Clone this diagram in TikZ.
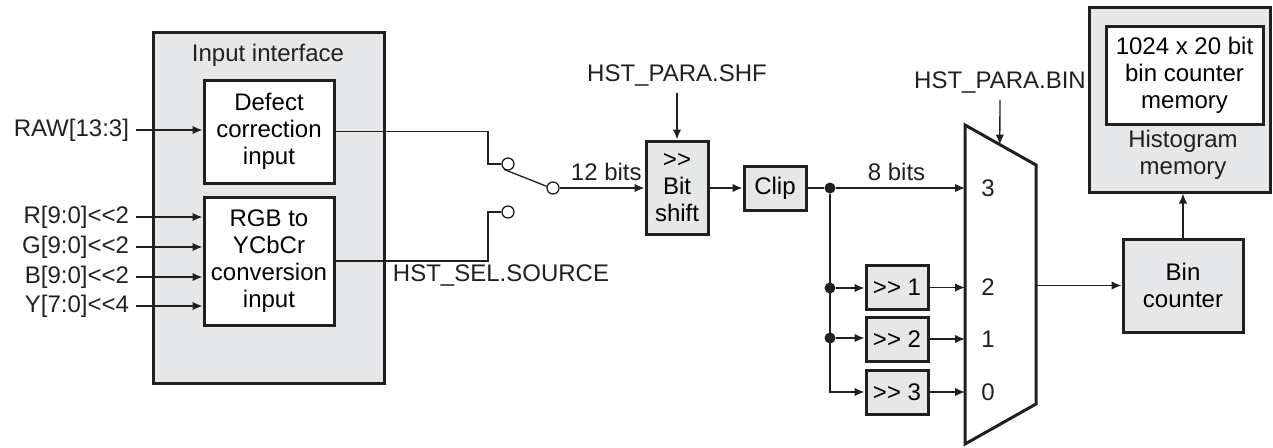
\documentclass[tikz,border=0pt]{standalone}
\usepackage{fontspec}
\setmainfont{Liberation Sans}
\usetikzlibrary{arrows.meta,calc}
\definecolor{boxgray}{RGB}{230,231,232}
\definecolor{ink}{RGB}{35,31,32}

\tikzset{
    blk/.style={draw=ink, line width=1.5pt, inner sep=0pt, align=center},
    graybox/.style={blk, fill=boxgray},
    whitebox/.style={blk, fill=white},
    sig/.style={draw=ink, line width=0.65pt, -{Latex[length=5pt,width=4.2pt]}},
    wire/.style={draw=ink, line width=0.65pt},
    pin/.style={circle, draw=ink, fill=white, line width=0.65pt, minimum size=6pt, inner sep=0pt},
    dot/.style={circle, fill=ink, minimum size=5.5pt, inner sep=0pt},
    lbl/.style={text=ink, align=center}
}

\begin{document}
\begin{tikzpicture}[x=0.5pt, y=-0.5pt, font=\fontsize{12}{13.5}\selectfont]
    \useasboundingbox (0,0) rectangle (1273,447);
    % input interface
    \path node[graybox, minimum width=115.5pt, minimum height=175.5pt] (iface) at (268.5,207.5) {}
        node[lbl] (ifacet) at (268,55) {Input interface}
        node[whitebox, minimum width=65pt, minimum height=51.5pt] (dfc) at (269,131.5) {Defect\\correction\\input}
        node[whitebox, minimum width=65pt, minimum height=64pt] (rgb) at (269,261) {RGB to\\YCbCr\\conversion\\input};
    \path node[lbl, anchor=east] (raw) at (136,130) {RAW[13:3]}
        node[lbl, anchor=east] (rin) at (136,217) {R[9:0]<{}<2}
        node[lbl, anchor=east] (gin) at (136,247) {G[9:0]<{}<2}
        node[lbl, anchor=east] (bin) at (136,277) {B[9:0]<{}<2}
        node[lbl, anchor=east] (yin) at (136,306) {Y[7:0]<{}<4};
    \draw[sig] (raw) -- (raw -| dfc.west);
    \draw[sig] (rin) -- (rin -| rgb.west);
    \draw[sig] (gin) -- (gin -| rgb.west);
    \draw[sig] (bin) -- (bin -| rgb.west);
    \draw[sig] (yin) -- (yin -| rgb.west);
    % source switch
    \path node[pin] (sw1) at (508,164) {}
        node[pin] (sw2) at (508,212) {}
        node[pin] (swc) at (553,188) {}
        node[lbl] (selsrc) at (501,275) {HST\_SEL.SOURCE};
    \coordinate (j1) at (488,164);
    \coordinate (j2) at (488,212);
    \draw[wire] (dfc.east) -| (j1) -- (sw1);
    \draw[wire] (rgb.east) -| (j2) -- (sw2);
    \draw[wire] (sw1.-125) -- (swc.165);
    % bit shift and clip
    \path node[graybox, minimum width=31pt, minimum height=46.5pt] (bsh) at (677,187.5) {>{}>\\Bit\\shift}
        node[lbl] (shf) at (677,75) {HST\_PARA.SHF}
        node[graybox, minimum width=31pt, minimum height=22pt] (clip) at (775,188) {Clip};
    \draw[sig] (swc) -- node[lbl, above, pos=0.55] {12 bits} (swc -| bsh.west);
    \draw[sig] (shf) -- (bsh);
    \draw[sig] (bsh.east |- clip) -- (clip);
    % shifters
    \path node[dot] (d0) at (830,188) {}
        node[dot] (d1) at (830,288) {}
        node[dot] (d2) at (830,338) {}
        node[graybox, minimum width=31pt, minimum height=22pt] (sh1) at (897,287.5) {>{}> 1}
        node[graybox, minimum width=31pt, minimum height=22pt] (sh2) at (897,339) {>{}> 2}
        node[graybox, minimum width=31pt, minimum height=22pt] (sh3) at (897,392) {>{}> 3};
    \draw[wire] (clip) -- (d0);
    \draw[sig] (d0) |- (sh3);
    \draw[sig] (d1) -- (d1 -| sh1.west);
    \draw[sig] (d2) -- (d2 -| sh2.west);
    % multiplexer
    \coordinate (mux-tl) at (965,125);
    \coordinate (mux-tr) at (1036,165);
    \coordinate (mux-br) at (1036,404);
    \coordinate (mux-bl) at (965,444);
    \draw[ink, line width=1.5pt, line join=miter] (mux-tl) -- (mux-tr) -- (mux-br) -- (mux-bl) -- cycle;
    \coordinate (in3) at (965,188);
    \coordinate (in2) at (965,287.5);
    \coordinate (in1) at (965,339);
    \coordinate (in0) at (965,392);
    \coordinate (bintap) at ($(mux-tl)!0.49!(mux-tr)$);
    \coordinate (mux-out) at (1036,285.5);
    \path node[lbl] at (988,188) {3}
        node[lbl] at (988,287.5) {2}
        node[lbl] at (988,339) {1}
        node[lbl] at (988,392) {0}
        node[lbl] (binp) at (1000,82) {HST\_PARA.BIN};
    \draw[sig] (d0) -- node[lbl, above, pos=0.47] {8 bits} (in3);
    \draw[sig] (sh1) -- (in2);
    \draw[sig] (sh2) -- (in1);
    \draw[sig] (sh3) -- (in0);
    \draw[sig] (binp) -- (bintap);
    % bin counter and memory
    \path node[graybox, minimum width=60pt, minimum height=46.5pt] (bcnt) at (1183,285.5) {Bin\\counter}
        node[graybox, minimum width=90.5pt, minimum height=92.5pt] (hmem) at (1179.5,99.5) {}
        node[whitebox, minimum width=78.5pt, minimum height=49pt] (cmem) at (1184.5,75) {1024 x 20 bit\\bin counter\\memory}
        node[lbl] (hmemt) at (1183,155) {Histogram\\memory};
    \draw[sig] (mux-out) -- (bcnt);
    \draw[sig] (bcnt.north) -- (bcnt.north |- hmem.south);
\end{tikzpicture}
\end{document}
